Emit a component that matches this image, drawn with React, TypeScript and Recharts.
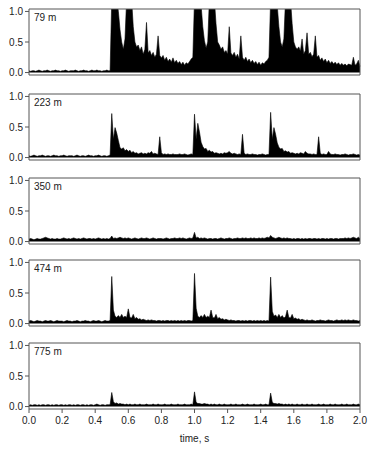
import React from 'react';
import { AreaChart, Area, XAxis, YAxis, ReferenceArea } from 'recharts';

// amplitude sampled every 10 ms, 0.00 .. 2.00 s (201 samples per trace)
const SAMPLE_STEP = 0.01;

const X_TICKS = [0, 0.2, 0.4, 0.6, 0.8, 1.0, 1.2, 1.4, 1.6, 1.8, 2.0];
const Y_TICKS = [0, 0.5, 1.0];

// 79 m
const TRACE_79 = [
  0.03, 0.02, 0.03, 0.03, 0.02, 0.03, 0.04, 0.03, 0.02, 0.03,
  0.03, 0.04, 0.03, 0.02, 0.03, 0.03, 0.04, 0.03, 0.03, 0.02,
  0.03, 0.03, 0.04, 0.03, 0.02, 0.03, 0.03, 0.03, 0.04, 0.03,
  0.02, 0.03, 0.03, 0.04, 0.03, 0.03, 0.02, 0.03, 0.04, 0.03,
  0.03, 0.04, 0.03, 0.03, 0.02, 0.03, 0.03, 0.04, 0.03, 0.03,
  1.2, 1.2, 1.2, 1.2, 1.0, 0.7, 0.5, 0.38, 0.55, 1.2,
  1.2, 1.2, 1.2, 0.75, 0.5, 0.42, 0.45, 0.36, 0.42, 0.3,
  0.38, 0.82, 0.32, 0.36, 0.28, 0.33, 0.25, 0.3, 0.6, 0.28,
  0.24, 0.28, 0.2, 0.25, 0.18, 0.22, 0.17, 0.24, 0.16, 0.2,
  0.15, 0.18, 0.13, 0.17, 0.12, 0.16, 0.14, 0.18, 0.22, 0.25,
  1.2, 1.2, 1.2, 1.2, 1.1, 0.75, 0.52, 0.4, 0.5, 1.2,
  1.2, 1.2, 1.2, 0.8, 0.5, 0.45, 0.38, 0.42, 0.33, 0.36,
  0.3, 0.75, 0.32, 0.28, 0.33, 0.25, 0.3, 0.22, 0.6, 0.25,
  0.2, 0.25, 0.18, 0.22, 0.16, 0.2, 0.15, 0.18, 0.13, 0.17,
  0.12, 0.16, 0.14, 0.18, 0.2, 0.25, 1.2, 1.2, 1.2, 1.2,
  1.1, 0.75, 0.5, 0.42, 0.55, 1.2, 1.2, 1.2, 1.2, 0.8,
  0.5, 0.42, 0.38, 0.42, 0.35, 0.55, 0.3, 0.36, 0.65, 0.3,
  0.33, 0.26, 0.3, 0.6, 0.25, 0.28, 0.2, 0.24, 0.18, 0.22,
  0.16, 0.2, 0.15, 0.18, 0.14, 0.17, 0.13, 0.16, 0.12, 0.15,
  0.12, 0.14, 0.11, 0.14, 0.13, 0.12, 0.25, 0.12, 0.14, 0.2,
  0.1,
];

// 223 m
const TRACE_223 = [
  0.03, 0.02, 0.03, 0.04, 0.03, 0.02, 0.03, 0.03, 0.04, 0.03,
  0.02, 0.03, 0.03, 0.02, 0.03, 0.04, 0.03, 0.03, 0.02, 0.03,
  0.03, 0.04, 0.03, 0.02, 0.03, 0.03, 0.03, 0.02, 0.03, 0.04,
  0.03, 0.02, 0.03, 0.03, 0.02, 0.03, 0.04, 0.03, 0.03, 0.02,
  0.03, 0.03, 0.04, 0.03, 0.02, 0.03, 0.03, 0.02, 0.03, 0.04,
  0.72, 0.3, 0.49, 0.4, 0.28, 0.16, 0.14, 0.16, 0.11, 0.13,
  0.1, 0.12, 0.08, 0.1, 0.07, 0.08, 0.06, 0.07, 0.08, 0.06,
  0.07, 0.06, 0.08, 0.07, 0.1, 0.06, 0.07, 0.06, 0.05, 0.34,
  0.08, 0.05, 0.06, 0.05, 0.06, 0.05, 0.05, 0.06, 0.05, 0.05,
  0.05, 0.06, 0.05, 0.05, 0.06, 0.05, 0.04, 0.05, 0.06, 0.05,
  0.71, 0.3, 0.56, 0.42, 0.25, 0.18, 0.14, 0.15, 0.1, 0.12,
  0.09, 0.1, 0.07, 0.08, 0.07, 0.06, 0.07, 0.06, 0.08, 0.07,
  0.08, 0.1, 0.07, 0.06, 0.07, 0.06, 0.05, 0.06, 0.05, 0.38,
  0.07, 0.05, 0.06, 0.05, 0.05, 0.06, 0.05, 0.05, 0.04, 0.05,
  0.05, 0.06, 0.05, 0.04, 0.05, 0.05, 0.74, 0.3, 0.49, 0.38,
  0.24, 0.17, 0.14, 0.15, 0.1, 0.11, 0.09, 0.1, 0.07, 0.08,
  0.07, 0.06, 0.07, 0.06, 0.08, 0.07, 0.06, 0.1, 0.07, 0.06,
  0.06, 0.05, 0.06, 0.05, 0.05, 0.34, 0.07, 0.05, 0.06, 0.05,
  0.05, 0.1, 0.06, 0.05, 0.05, 0.06, 0.05, 0.05, 0.04, 0.05,
  0.05, 0.06, 0.05, 0.04, 0.05, 0.05, 0.06, 0.05, 0.04, 0.05,
  0.04,
];

// 350 m
const TRACE_350 = [
  0.04, 0.05, 0.04, 0.03, 0.04, 0.05, 0.04, 0.04, 0.05, 0.06,
  0.07, 0.06, 0.05, 0.04, 0.05, 0.04, 0.04, 0.05, 0.04, 0.04,
  0.05, 0.06, 0.05, 0.04, 0.05, 0.04, 0.05, 0.06, 0.05, 0.04,
  0.05, 0.04, 0.05, 0.06, 0.05, 0.04, 0.05, 0.05, 0.04, 0.05,
  0.04, 0.05, 0.06, 0.05, 0.04, 0.05, 0.04, 0.05, 0.04, 0.05,
  0.09, 0.05, 0.06, 0.05, 0.06, 0.07, 0.06, 0.05, 0.06, 0.05,
  0.06, 0.05, 0.04, 0.05, 0.06, 0.05, 0.04, 0.05, 0.06, 0.05,
  0.05, 0.06, 0.05, 0.04, 0.05, 0.06, 0.05, 0.04, 0.05, 0.05,
  0.05, 0.04, 0.05, 0.06, 0.05, 0.04, 0.05, 0.05, 0.06, 0.05,
  0.05, 0.06, 0.05, 0.06, 0.05, 0.04, 0.05, 0.06, 0.05, 0.06,
  0.15, 0.06, 0.07, 0.05, 0.06, 0.05, 0.06, 0.05, 0.04, 0.05,
  0.05, 0.04, 0.05, 0.05, 0.04, 0.05, 0.06, 0.05, 0.04, 0.05,
  0.05, 0.06, 0.05, 0.04, 0.05, 0.05, 0.06, 0.05, 0.05, 0.06,
  0.05, 0.06, 0.05, 0.05, 0.06, 0.05, 0.06, 0.05, 0.05, 0.06,
  0.05, 0.06, 0.05, 0.06, 0.07, 0.06, 0.1, 0.07, 0.06, 0.05,
  0.06, 0.07, 0.06, 0.05, 0.06, 0.05, 0.06, 0.05, 0.05, 0.04,
  0.05, 0.04, 0.05, 0.05, 0.04, 0.05, 0.04, 0.05, 0.04, 0.05,
  0.05, 0.04, 0.05, 0.05, 0.04, 0.05, 0.04, 0.05, 0.05, 0.04,
  0.05, 0.04, 0.05, 0.05, 0.04, 0.05, 0.05, 0.04, 0.05, 0.05,
  0.05, 0.06, 0.05, 0.06, 0.05, 0.06, 0.07, 0.06, 0.05, 0.07,
  0.05,
];

// 474 m
const TRACE_474 = [
  0.04, 0.05, 0.04, 0.03, 0.04, 0.05, 0.04, 0.04, 0.03, 0.04,
  0.05, 0.04, 0.04, 0.05, 0.04, 0.03, 0.04, 0.05, 0.04, 0.04,
  0.04, 0.03, 0.04, 0.05, 0.04, 0.04, 0.03, 0.04, 0.04, 0.05,
  0.04, 0.03, 0.04, 0.04, 0.05, 0.04, 0.04, 0.03, 0.04, 0.05,
  0.04, 0.04, 0.05, 0.04, 0.03, 0.04, 0.05, 0.04, 0.04, 0.05,
  0.77, 0.22, 0.12, 0.1, 0.13, 0.1, 0.15, 0.1, 0.12, 0.1,
  0.24, 0.1, 0.09, 0.15, 0.08, 0.1, 0.07, 0.08, 0.06, 0.07,
  0.06, 0.05, 0.06, 0.05, 0.06, 0.05, 0.05, 0.04, 0.05, 0.05,
  0.04, 0.05, 0.04, 0.05, 0.05, 0.04, 0.05, 0.04, 0.05, 0.04,
  0.05, 0.04, 0.05, 0.04, 0.05, 0.04, 0.05, 0.05, 0.04, 0.05,
  0.82, 0.25, 0.12, 0.1, 0.13, 0.1, 0.15, 0.1, 0.12, 0.1,
  0.22, 0.1, 0.09, 0.15, 0.08, 0.1, 0.07, 0.08, 0.06, 0.07,
  0.06, 0.05, 0.06, 0.05, 0.05, 0.04, 0.05, 0.05, 0.04, 0.05,
  0.04, 0.05, 0.04, 0.05, 0.05, 0.04, 0.05, 0.04, 0.05, 0.04,
  0.05, 0.04, 0.05, 0.04, 0.05, 0.04, 0.76, 0.2, 0.12, 0.14,
  0.1, 0.15, 0.1, 0.13, 0.09, 0.11, 0.22, 0.1, 0.09, 0.15,
  0.08, 0.09, 0.07, 0.08, 0.06, 0.07, 0.06, 0.05, 0.06, 0.05,
  0.05, 0.06, 0.05, 0.04, 0.05, 0.05, 0.06, 0.05, 0.05, 0.04,
  0.05, 0.06, 0.05, 0.05, 0.04, 0.05, 0.06, 0.05, 0.05, 0.06,
  0.05, 0.06, 0.05, 0.06, 0.05, 0.05, 0.06, 0.05, 0.05, 0.04,
  0.05,
];

// 775 m
const TRACE_775 = [
  0.02, 0.03, 0.02, 0.03, 0.03, 0.02, 0.03, 0.02, 0.03, 0.03,
  0.02, 0.03, 0.03, 0.02, 0.03, 0.02, 0.03, 0.03, 0.02, 0.03,
  0.03, 0.02, 0.03, 0.02, 0.03, 0.03, 0.02, 0.03, 0.02, 0.03,
  0.03, 0.02, 0.03, 0.03, 0.02, 0.03, 0.02, 0.03, 0.03, 0.02,
  0.03, 0.04, 0.03, 0.02, 0.03, 0.03, 0.02, 0.03, 0.03, 0.03,
  0.23, 0.08, 0.05, 0.06, 0.04, 0.05, 0.04, 0.04, 0.03, 0.04,
  0.03, 0.04, 0.03, 0.03, 0.04, 0.03, 0.03, 0.04, 0.03, 0.03,
  0.03, 0.04, 0.03, 0.03, 0.03, 0.04, 0.03, 0.03, 0.04, 0.03,
  0.03, 0.03, 0.04, 0.03, 0.03, 0.03, 0.04, 0.03, 0.03, 0.03,
  0.04, 0.03, 0.03, 0.03, 0.04, 0.03, 0.03, 0.03, 0.04, 0.03,
  0.24, 0.07, 0.05, 0.05, 0.04, 0.04, 0.05, 0.04, 0.04, 0.03,
  0.04, 0.03, 0.04, 0.03, 0.03, 0.04, 0.03, 0.03, 0.04, 0.03,
  0.03, 0.03, 0.04, 0.03, 0.03, 0.04, 0.03, 0.03, 0.03, 0.04,
  0.03, 0.03, 0.04, 0.03, 0.03, 0.03, 0.04, 0.03, 0.03, 0.03,
  0.04, 0.03, 0.03, 0.04, 0.03, 0.03, 0.22, 0.07, 0.05, 0.05,
  0.04, 0.05, 0.04, 0.04, 0.03, 0.04, 0.03, 0.04, 0.03, 0.04,
  0.03, 0.03, 0.04, 0.03, 0.03, 0.04, 0.03, 0.03, 0.04, 0.03,
  0.03, 0.04, 0.03, 0.03, 0.03, 0.04, 0.03, 0.03, 0.04, 0.03,
  0.03, 0.03, 0.04, 0.03, 0.03, 0.04, 0.03, 0.03, 0.03, 0.04,
  0.03, 0.03, 0.04, 0.03, 0.03, 0.03, 0.04, 0.03, 0.03, 0.04,
  0.03,
];

const PANEL_LABELS = ['79 m', '223 m', '350 m', '474 m', '775 m'];
const TRACES = [TRACE_79, TRACE_223, TRACE_350, TRACE_474, TRACE_775];
// y of each panel's frame top
const FRAME_TOPS = [9, 94, 178, 260, 343];

const Y_MIN = -0.04;
const Y_MAX = 1.04;
const PLOT_H = 66;
const PAD = 8;
const FONT = "'Liberation Sans', Arial, sans-serif";
const FONT_SIZE = 10;
const AXIS_GREY = '#555';
const TEXT = '#222';

const fmt = (v: number) => v.toFixed(1);

const Panel = ({ label, values, frameTop, showX }: { label: string; values: number[]; frameTop: number; showX: boolean }) => {
  const data = values.map((v, i) => ({ t: +(i * SAMPLE_STEP).toFixed(2), v }));
  const xAxisH = showX ? 42 : 0;
  return (
    <div style={{ position: 'absolute', left: 0, top: frameTop - PAD }}>
      <AreaChart
        width={373}
        height={PLOT_H + xAxisH + PAD * 2}
        data={data}
        margin={{ top: PAD, right: 13, bottom: PAD, left: 0 }}
      >
        <XAxis
          dataKey="t"
          type="number"
          domain={[0, 2]}
          ticks={X_TICKS}
          interval={0}
          hide={!showX}
          height={xAxisH}
          axisLine={false}
          tickLine={{ stroke: AXIS_GREY }}
          tickSize={4}
          tickMargin={4}
          tickFormatter={fmt}
          tick={{ fontSize: FONT_SIZE, fill: TEXT, fontFamily: FONT }}
          label={{ value: 'time, s', position: 'insideBottom', offset: 9, fontSize: FONT_SIZE, fill: TEXT, fontFamily: FONT }}
        />
        <YAxis
          type="number"
          domain={[Y_MIN, Y_MAX]}
          ticks={Y_TICKS}
          interval={0}
          allowDataOverflow
          width={29}
          axisLine={false}
          tickLine={{ stroke: AXIS_GREY }}
          tickSize={4}
          tickFormatter={fmt}
          tick={{ fontSize: FONT_SIZE, fill: TEXT, fontFamily: FONT }}
        />
        <Area
          dataKey="v"
          type="linear"
          baseValue={0}
          stroke="#000"
          strokeWidth={0.6}
          fill="#000"
          fillOpacity={1}
          dot={false}
          activeDot={false}
          isAnimationActive={false}
        />
        <ReferenceArea
          x1={0}
          x2={2}
          y1={Y_MIN}
          y2={Y_MAX}
          stroke={AXIS_GREY}
          fill="none"
          ifOverflow="visible"
          label={{ value: label, position: 'insideTopLeft', offset: 5, fontSize: FONT_SIZE, fill: TEXT, fontFamily: FONT }}
        />
      </AreaChart>
    </div>
  );
};

export default function App() {
  return (
    <div style={{ position: 'absolute', left: 0, top: 0, width: 373, height: 472, background: '#fff' }}>
      {TRACES.map((values, i) => (
        <Panel
          key={PANEL_LABELS[i]}
          label={PANEL_LABELS[i]}
          values={values}
          frameTop={FRAME_TOPS[i]}
          showX={i === TRACES.length - 1}
        />
      ))}
    </div>
  );
}
